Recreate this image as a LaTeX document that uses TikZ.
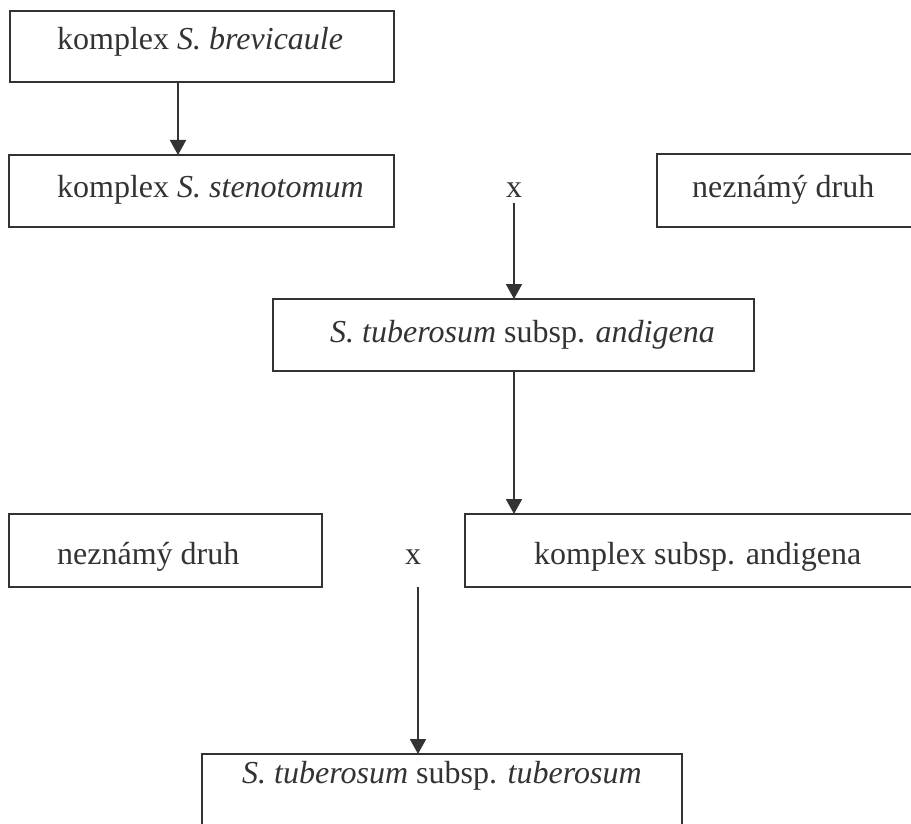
\documentclass[tikz,border=0pt]{standalone}
\usepackage{fontspec}
\setmainfont{Liberation Serif}
\usetikzlibrary{arrows.meta}
\definecolor{ink}{HTML}{333333}
\begin{document}
\begin{tikzpicture}[x=1pt,y=-1pt,
  box/.style={draw=ink,line width=2pt,inner sep=0pt,outer sep=0pt,anchor=north west},
  lbl/.style={text=ink,inner sep=0pt,anchor=base west,font=\fontsize{32}{38}\selectfont},
  crosslbl/.style={text=ink,inner sep=0pt,anchor=base,font=\fontsize{32}{38}\selectfont},
  arr/.style={draw=ink,line width=2pt,-{Triangle[length=15pt,width=16pt]}}]
\clip (0,0) rectangle (911,824);
\fill[white] (0,0) rectangle (911,824);
% boxes
\node[box,minimum width=384pt,minimum height=71pt] (b1) at (10,11) {};
\node[box,minimum width=385pt,minimum height=72pt] (b2) at (9,155) {};
\node[box,minimum width=260pt,minimum height=73pt] (b3) at (657,154) {};
\node[box,minimum width=481pt,minimum height=72pt] (b4) at (273,299) {};
\node[box,minimum width=313pt,minimum height=73pt] (b5) at (9,514) {};
\node[box,minimum width=452pt,minimum height=73pt] (b6) at (465,514) {};
\node[box,minimum width=480pt,minimum height=80pt] (b7) at (202,754) {};
% texts
\node[lbl] (t1) at (57,50) {komplex \textit{S. brevicaule}};
\node[lbl] (t2) at (57,197) {komplex \textit{S. stenotomum}};
\node[crosslbl] (x1) at (514,197) {x};
\node[lbl] (t3) at (692,197) {neznámý druh};
\node[lbl] (t4) at (330,342) {\textit{S. tuberosum} subsp. \textit{andigena}};
\node[lbl] (t5) at (57,564) {neznámý druh};
\node[crosslbl] (x2) at (413,564) {x};
\node[lbl] (t6) at (534,564) {komplex subsp. andigena};
\node[lbl] (t7) at (242,783) {\textit{S. tuberosum} subsp. \textit{tuberosum}};
% connectors
\coordinate (c1) at (178,0);
\coordinate (c2) at (514,0);
\coordinate (x1s) at (514,203);
\coordinate (x2s) at (418,587);
\draw[arr] (c1 |- b1.south) -- (c1 |- b2.north);
\draw[arr] (x1s) -- (x1s |- b4.north);
\draw[arr] (c2 |- b4.south) -- (c2 |- b6.north);
\draw[arr] (x2s) -- (x2s |- b7.north);
\end{tikzpicture}
\end{document}
